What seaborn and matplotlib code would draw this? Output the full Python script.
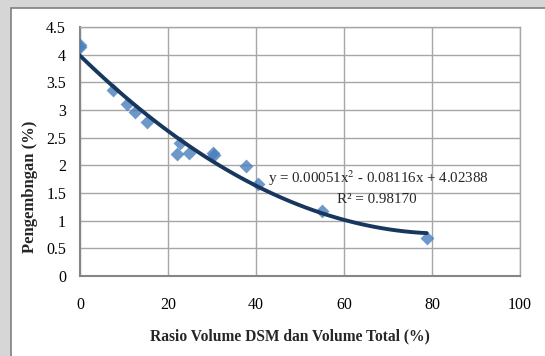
import matplotlib.pyplot as plt
import matplotlib.patches as mpatches
import seaborn as sns
import pandas as pd
import numpy as np

# Data
rasio = [0.0, 0.0, 7.4, 10.6, 12.4, 15.2, 22.0, 22.8, 24.8, 30.3, 30.5, 37.7, 40.5, 54.9, 78.8]
pengembangan = [4.18, 4.14, 3.37, 3.11, 2.97, 2.79, 2.20, 2.40, 2.23, 2.22, 2.18, 1.99, 1.66, 1.18, 0.69]
x_ticks = [0, 20, 40, 60, 80, 100]
y_ticks = [0, 0.5, 1, 1.5, 2, 2.5, 3, 3.5, 4, 4.5]
y_tick_labels = ['0', '0.5', '1', '1.5', '2', '2.5', '3', '3.5', '4', '4.5']
persamaan = 'y = 0.00051x$^{2}$ - 0.08116x + 4.02388'
r_kuadrat = 'R² = 0.98170'

df = pd.DataFrame({'rasio': rasio, 'pengembangan': pengembangan})

sns.set_theme(style='white')
plt.rcParams['font.family'] = ['Liberation Serif', 'DejaVu Serif']
plt.rcParams['mathtext.fontset'] = 'stix'

fig = plt.figure(figsize=(5.45, 3.56), dpi=100, facecolor='#d6d6d6')
# white chart frame behind the axes
frame = mpatches.Rectangle((11 / 545, -0.01), 1, 1 - 8 / 356 + 0.01, transform=fig.transFigure,
                           facecolor='white', edgecolor='#7f7f7f', linewidth=1.2, zorder=-10)
fig.add_artist(frame)

ax = fig.add_axes([80 / 545, 1 - 276 / 356, 440 / 545, 249 / 356])
ax.set_facecolor('white')

sns.regplot(data=df, x='rasio', y='pengembangan', order=2, ci=None, ax=ax,
            marker='D',
            scatter_kws={'color': '#4a7ebb', 's': 50, 'linewidths': 0, 'zorder': 3},
            line_kws={'color': '#17375e', 'linewidth': 2.8, 'zorder': 4})

ax.set_xlim(0, 100)
ax.set_ylim(0, 4.5)
ax.set_xticks(x_ticks)
ax.set_xticklabels([str(t) for t in x_ticks])
ax.set_yticks(y_ticks)
ax.set_yticklabels(y_tick_labels)
ax.grid(True, color='#a6a6a6', linewidth=1)
ax.set_axisbelow(True)
for s in ['top', 'right']:
    ax.spines[s].set_color('#a6a6a6')
    ax.spines[s].set_linewidth(1)
for s in ['left', 'bottom']:
    ax.spines[s].set_color('#868686')
    ax.spines[s].set_linewidth(1.5)
ax.tick_params(axis='both', which='major', direction='out', length=4, width=1,
               color='#868686', labelsize=11.5, labelcolor='black')
ax.tick_params(axis='x', pad=11)
ax.tick_params(axis='y', pad=6)

ax.set_xlabel('Rasio Volume DSM dan Volume Total (%)', fontsize=11.2, fontweight='bold')
ax.set_ylabel('Pengembngan (%)', fontsize=12, fontweight='bold')
ax.xaxis.set_label_coords(0.477, -0.21)
ax.yaxis.set_label_coords(-0.095, 0.36)

ax.text(42.8, 1.77, persamaan, fontsize=10.8, ha='left', va='center', zorder=5)
ax.text(67.4, 1.39, r_kuadrat, fontsize=10.8, ha='center', va='center', zorder=5)

plt.savefig('out.png', dpi=100, facecolor=fig.get_facecolor())
